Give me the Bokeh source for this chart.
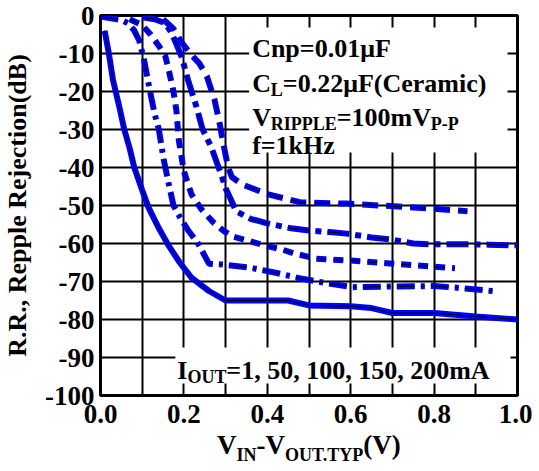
import math
from bokeh.plotting import figure
from bokeh.layouts import column
from bokeh.models import Range1d, Label, FixedTicker, PrintfTickFormatter, NumeralTickFormatter, Div
from bokeh.embed import file_html
from bokeh.resources import INLINE

# ---------------- data ----------------
x_ticks = [0.0, 0.2, 0.4, 0.6, 0.8, 1.0]
x_grid = [0.1, 0.2, 0.3, 0.4, 0.5, 0.6, 0.7, 0.8, 0.9]
y_ticks = [-100, -90, -80, -70, -60, -50, -40, -30, -20, -10, 0]
y_grid = [-90, -80, -70, -60, -50, -40, -30, -20, -10]

# I_OUT = 1mA (solid)
x_1ma = [0.01, 0.02, 0.03, 0.045, 0.057, 0.07, 0.081, 0.1, 0.115, 0.14, 0.163, 0.19, 0.218,
         0.26, 0.30, 0.45, 0.50, 0.60, 0.65, 0.70, 0.80, 0.90, 1.00]
rr_1ma = [-4, -10, -17, -24, -30, -35, -40, -46, -50.5, -56, -60.5, -65, -69,
          -72.5, -75, -75, -76.3, -76.5, -77, -78.3, -78.3, -79.2, -80]

# I_OUT = 50mA
x_50ma = [0.0, 0.05, 0.065, 0.08, 0.093, 0.105, 0.117, 0.13, 0.14, 0.151, 0.163, 0.175, 0.19,
          0.21, 0.234, 0.26, 0.30, 0.356, 0.42, 0.48, 0.545, 0.605, 0.70, 0.80, 0.85, 0.95]
rr_50ma = [-0.3, -1.2, -2, -3.8, -6.6, -12, -19, -26, -30, -37.6, -44, -50, -53,
           -56.5, -60, -65.3, -65.6, -66.3, -67.7, -69.2, -70.5, -71.5, -71.3, -71.2, -71.6, -72.6]

# I_OUT = 100mA
x_100ma = [0.07, 0.10, 0.12, 0.14, 0.155, 0.165, 0.175, 0.182, 0.188, 0.2, 0.218, 0.242, 0.273,
           0.297, 0.318, 0.345, 0.368, 0.4, 0.433, 0.464, 0.517, 0.6, 0.70, 0.85]
rr_100ma = [-1, -2.5, -5, -8, -10.5, -15, -20, -25, -33, -41, -47, -51, -54.7,
            -56.8, -58.2, -59, -59.7, -60.7, -61.5, -62.6, -64, -64.5, -65.3, -66.5]

# I_OUT = 150mA
x_150ma = [0.10, 0.13, 0.155, 0.17, 0.182, 0.195, 0.21, 0.23, 0.245, 0.266, 0.28, 0.29, 0.30,
           0.313, 0.325, 0.36, 0.40, 0.457, 0.50, 0.55, 0.59, 0.65, 0.70, 0.75, 0.79, 0.87, 0.93, 1.0]
rr_150ma = [-0.5, -1, -2, -4.5, -7.5, -11, -17, -24, -30, -34.7, -39, -42, -45.5,
            -48.5, -51.5, -53.5, -54.7, -56, -56.6, -57, -57.4, -58.4, -59, -60, -60.2, -60.2, -60.3, -60.5]

# I_OUT = 200mA
x_200ma = [0.15, 0.175, 0.194, 0.215, 0.237, 0.255, 0.273, 0.285, 0.295, 0.306, 0.315, 0.34,
           0.40, 0.48, 0.59, 0.67, 0.75, 0.88]
rr_200ma = [-1, -3.5, -7, -10, -12.6, -16, -22, -28, -34, -40, -42.5, -44.5,
            -47, -49.2, -49.5, -50, -50.5, -51.5]

series = [
    (x_1ma, rr_1ma, "solid"),
    (x_50ma, rr_50ma, "18 6 4 6"),
    (x_100ma, rr_100ma, "10 7"),
    (x_150ma, rr_150ma, "22 6 6 6"),
    (x_200ma, rr_200ma, "16 8"),
]

# ---------------- main figure ----------------
P_H = 430
p = figure(width=532, height=P_H, x_range=Range1d(0, 1), y_range=Range1d(-100, 0),
           output_backend="svg", toolbar_location=None,
           min_border_left=99, min_border_right=15, min_border_top=15, min_border_bottom=P_H - 395)
p.background_fill_color = "white"
p.border_fill_color = "white"
p.outline_line_color = "black"
p.outline_line_width = 3
p.outline_line_alpha = 1

p.xgrid.ticker = FixedTicker(ticks=x_grid)
p.ygrid.ticker = FixedTicker(ticks=y_grid)
for g in (p.xgrid, p.ygrid):
    g.grid_line_color = "black"
    g.grid_line_width = 2
    g.grid_line_alpha = 1

p.xaxis.ticker = FixedTicker(ticks=x_ticks)
p.xaxis.formatter = NumeralTickFormatter(format="0.0")
p.yaxis.ticker = FixedTicker(ticks=y_ticks)
p.yaxis.formatter = PrintfTickFormatter(format="%d")
for ax in (p.xaxis, p.yaxis):
    ax.axis_line_color = None
    ax.major_tick_line_color = None
    ax.minor_tick_line_color = None
    ax.major_label_text_font = "Liberation Serif"
    ax.major_label_text_font_style = "bold"
    ax.major_label_text_font_size = "27px"
    ax.major_label_text_color = "black"
p.xaxis.major_label_standoff = 3
p.yaxis.major_label_standoff = 0
p.yaxis.axis_label = "R.R., Repple Rejection(dB)"
p.yaxis.axis_label_text_font = "Liberation Serif"
p.yaxis.axis_label_text_font_style = "bold"
p.yaxis.axis_label_text_font_size = "26px"
p.yaxis.axis_label_text_color = "black"
p.yaxis.axis_label_standoff = 10

# reference-pixel -> data helpers for annotation placement
def dx(px):
    return (px - 99) / 418.0

def dy(py):
    return -(py - 15) / 3.8

# white boxes behind the annotation text (hide grid)
p.quad(left=[dx(248)], right=[dx(507)], top=[dy(27)], bottom=[dy(152)],
       fill_color="white", line_color=None)
p.quad(left=[dx(174)], right=[dx(510)], top=[dy(347)], bottom=[dy(383)],
       fill_color="white", line_color=None)

# curves: thick blue with thin black centre line
for xs, ys, dash in series:
    p.line(xs, ys, line_color="#0000ff", line_width=6, line_dash=dash)
    p.line(xs, ys, line_color="black", line_width=1, line_dash=dash)

# ---------------- texts ----------------
W = {' ': 250, '(': 333, ')': 333, ',': 250, '-': 333, '.': 250, '=': 570,
     'A': 722, 'C': 722, 'E': 667, 'F': 611, 'H': 778, 'I': 389, 'L': 667, 'N': 722,
     'O': 778, 'P': 611, 'R': 722, 'T': 667, 'U': 722, 'V': 722, 'Y': 722,
     'a': 500, 'c': 444, 'e': 444, 'f': 333, 'i': 278, 'k': 556, 'm': 833, 'n': 556,
     'p': 556, 'r': 444, 'z': 444, 'μ': 576}

def tw(s, size):
    return sum(W.get(c, 500) for c in s) / 1000.0 * size

def place(fig, pieces, x0, base):
    x = x0
    for text, size, off in pieces:
        fig.add_layout(Label(x=dx(x), y=dy(base + off), text=text,
                             text_font="Liberation Serif", text_font_style="bold",
                             text_font_size=f"{size}px", text_baseline="alphabetic",
                             text_align="left", text_color="black"))
        x += tw(text, size)

M, S = 26, 18
place(p, [("Cnp=0.01μF", M, 0)], 251, 48)
place(p, [("C", M, 0), ("L", S, 6), ("=0.22μF(Ceramic)", M, 0)], 251, 83)
place(p, [("V", M, 0), ("RIPPLE", S, 6), ("=100mV", M, 0), ("P-P", S, 6)], 251, 117)
place(p, [("f=1kHz", M, 0)], 251, 145)
place(p, [("I", M, 0), ("OUT", S, 6), ("=1, 50, 100, 150, 200mA", M, 0)], 176, 370)

# ---------------- x-axis title (HTML text with subscripts) ----------------
sub = '<span style="font-size:18px; position:relative; top:7px;">%s</span>'
x_title = Div(
    text="V" + sub % "IN" + "-V" + sub % "OUT.TYP" + "(V)",
    width=532, height=40,
    styles={"font-family": "Liberation Serif", "font-weight": "bold", "font-size": "27px",
            "color": "black", "white-space": "nowrap", "line-height": "30px",
            "padding-left": "217px", "margin": "0px", "background-color": "white"},
)

layout = column(p, x_title, spacing=0)
open("out.html", "w").write(file_html(layout, INLINE))
